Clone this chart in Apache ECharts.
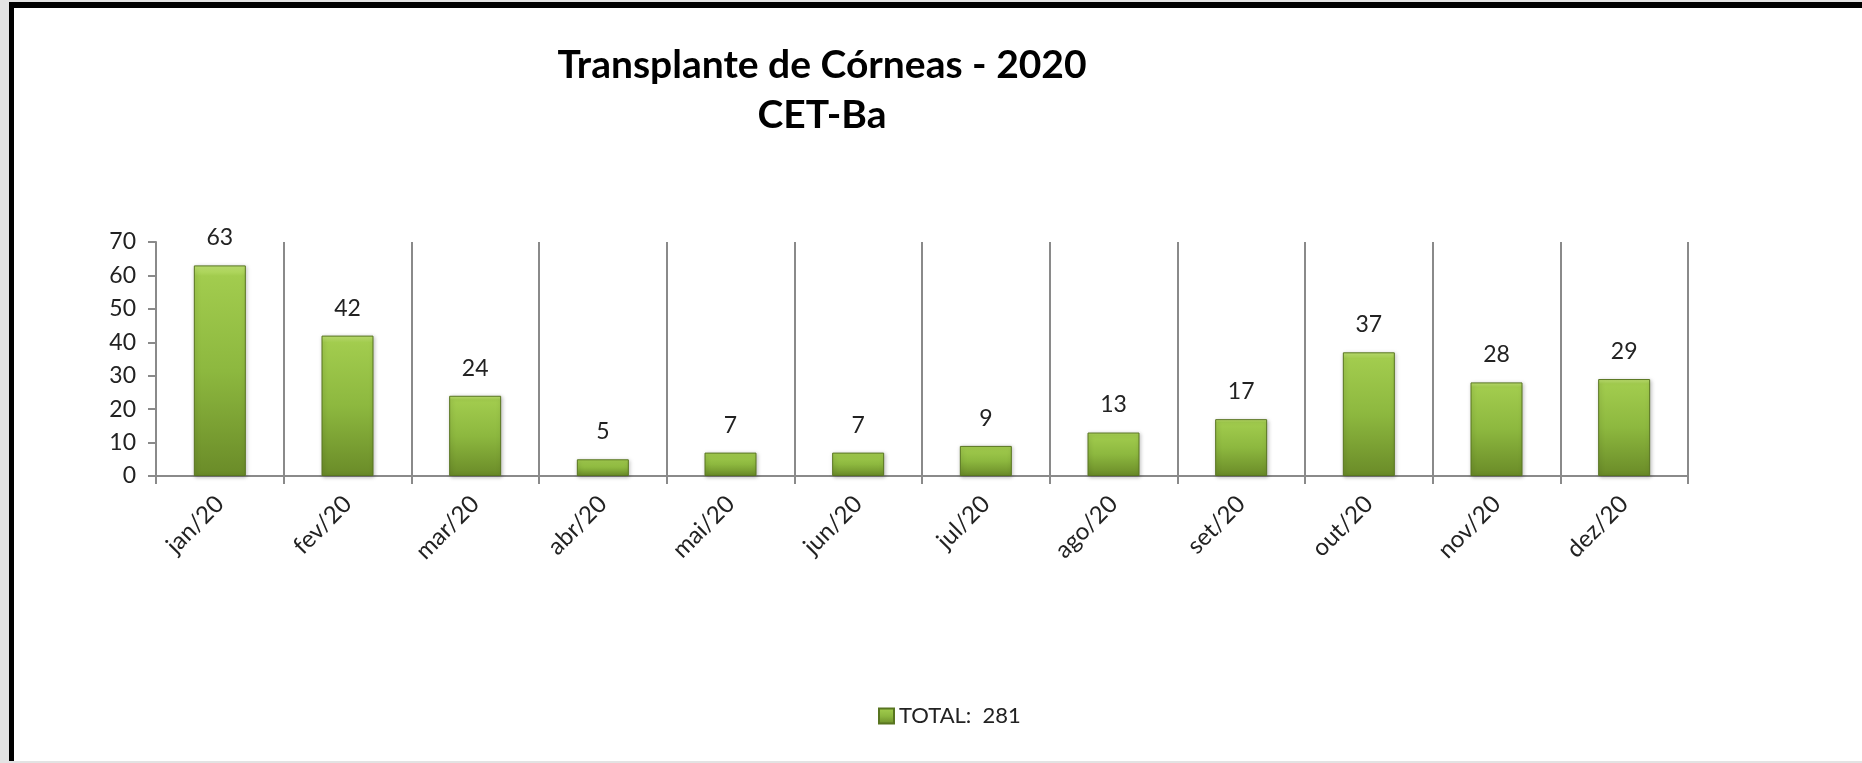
<!DOCTYPE html>
<html>
<head>
<meta charset="utf-8">
<script src="https://cdn.jsdelivr.net/npm/echarts@6/dist/echarts.min.js"></script>
<style>
  html, body { margin: 0; padding: 0; background: #e3e3e3; }
  #frame {
    position: absolute; left: 9px; top: 2px; right: 0; bottom: 2px;
    background: #fff; border-top: 6px solid #000; border-left: 5px solid #000;
  }
  #corneas { position: absolute; left: 0; top: 0; width: 1862px; height: 763px; }
</style>
</head>
<body>
<div id="frame"></div>
<div id="corneas"></div>
<script>
  var months = ['jan/20', 'fev/20', 'mar/20', 'abr/20', 'mai/20', 'jun/20',
                'jul/20', 'ago/20', 'set/20', 'out/20', 'nov/20', 'dez/20'];
  var totals = [63, 42, 24, 5, 7, 7, 9, 13, 17, 37, 28, 29];
  var seriesName = 'TOTAL:  281';
  var yTicks = {min: 0, max: 70, interval: 10};

  var chart = echarts.init(document.getElementById('corneas'));
  var font = 'Lato, "Open Sans", sans-serif';
  var gray = '#8a8a8a';

  var barFill = new echarts.graphic.LinearGradient(0, 0, 0, 1, [
    {offset: 0, color: '#c2e574'},
    {offset: 0.05, color: '#a2cc4e'},
    {offset: 0.5, color: '#8db83f'},
    {offset: 1, color: '#6a8b28'}
  ]);

  var option = {
    animation: false,
    title: {
      text: 'Transplante de Córneas - 2020\nCET-Ba',
      left: 817,
      top: 35,
      textAlign: 'center',
      textStyle: {
        fontFamily: font,
        fontWeight: 'bold',
        fontSize: 39,
        lineHeight: 50,
        color: '#000'
      }
    },
    legend: {
      data: [seriesName],
      left: 873,
      top: 700,
      itemWidth: 15,
      itemHeight: 15,
      itemGap: 6,
      icon: 'rect',
      textStyle: {fontFamily: font, fontSize: 22, color: '#222'}
    },
    grid: {left: 156, right: 174, top: 242, bottom: 287, containLabel: false},
    xAxis: {
      type: 'category',
      data: months,
      boundaryGap: true,
      axisLine: {lineStyle: {color: gray, width: 2}},
      axisTick: {show: true, length: 8, lineStyle: {color: gray, width: 2}},
      splitLine: {show: true, showMinLine: true, showMaxLine: true, lineStyle: {color: gray, width: 2}},
      axisLabel: {
        rotate: 45,
        margin: 24,
        fontFamily: font,
        fontSize: 24,
        color: '#222'
      }
    },
    yAxis: {
      type: 'value',
      min: yTicks.min,
      max: yTicks.max,
      interval: yTicks.interval,
      axisLine: {show: true, lineStyle: {color: gray, width: 2}},
      axisTick: {show: true, length: 8, lineStyle: {color: gray, width: 2}},
      splitLine: {show: false},
      axisLabel: {margin: 20, fontFamily: font, fontSize: 23, color: '#222'}
    },
    series: [{
      name: seriesName,
      type: 'bar',
      data: totals,
      barWidth: 52,
      itemStyle: {
        color: barFill,
        borderColor: '#587520',
        borderWidth: 1,
        shadowBlur: 4,
        shadowColor: 'rgba(0,0,0,0.25)',
        shadowOffsetX: 1,
        shadowOffsetY: 1
      },
      label: {
        show: true,
        position: 'top',
        distance: 16,
        fontFamily: font,
        fontSize: 23,
        color: '#222'
      }
    }]
  };

  chart.setOption(option);
</script>
</body>
</html>
